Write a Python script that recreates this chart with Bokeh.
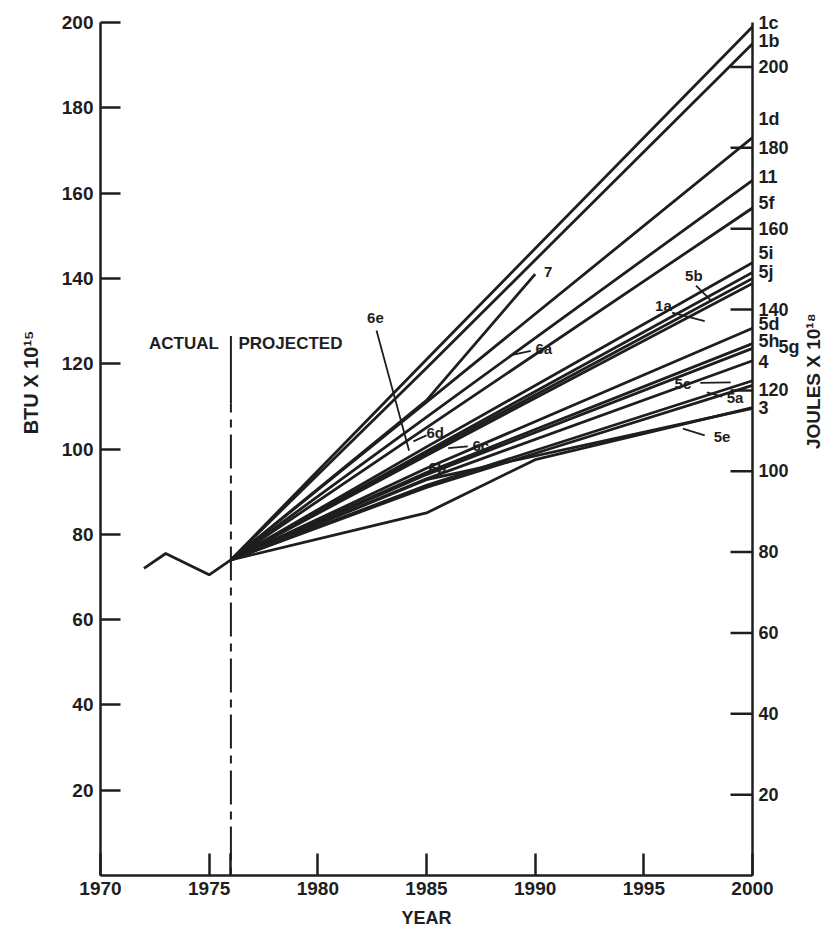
from bokeh.plotting import figure
from bokeh.models import Range1d, LinearAxis, FixedTicker, Label, Title
from bokeh.embed import file_html
from bokeh.resources import INLINE

# ---------------- data ----------------
hist_years = [1972, 1973, 1975, 1976]
hist_btu = [72, 75.5, 70.5, 74]

# projections: (years, BTU x 10^15)
y3 = [1976, 1985, 2000]
p1c = [74, 121, 199]
p1b = [74, 119, 195]
p1d = [74, 111, 173]
p11 = [74, 107.5, 163]
p5f = [74, 105, 156.5]
p5i = [74, 100.5, 143.7]
p5j = [74, 99.5, 141.4]
p5b = [74, 99, 140]
p1a = [74, 98.5, 138.8]
p5d = [74, 95.5, 128.3]
p5h = [74, 94.5, 124.7]
p5g = [74, 94, 123.6]
p4 = [74, 93, 120.7]
p5c = [74, 91.5, 116]
p5a = [74, 91, 114.9]
p5e = [74, 92.8, 109.5]
y7 = [1976, 1985, 1990]
p7 = [74, 111.4, 141]
y3low = [1976, 1985, 1990, 2000]
p3 = [74, 85, 97.5, 109.7]

proj_series = [
    (y3, p1c), (y3, p1b), (y3, p1d), (y3, p11), (y3, p5f), (y3, p5i), (y3, p5j),
    (y3, p5b), (y3, p1a), (y3, p5d), (y3, p5h), (y3, p5g), (y3, p4), (y3, p5c),
    (y3, p5a), (y3, p5e), (y7, p7), (y3low, p3),
]

left_ticks = [20, 40, 60, 80, 100, 120, 140, 160, 180, 200]
joule_ticks = [20, 40, 60, 80, 100, 120, 140, 160, 180, 200]
year_ticks = [1970, 1975, 1976, 1980, 1985, 1990, 1995, 2000]
BTU_TO_J = 1.055

# series labels just right of the right axis: (text, BTU position)
NB = "\u00a0"
right_labels = [("1c", 199.9), ("1b", 195.6), ("1d", 177.3), ("11", 163.7),
                ("5f", 157.6), ("5i", 146.0), ("5j", 141.6), ("5d", 129.4),
                ("5h", 125.3), (NB * 4 + "5g", 123.8), ("4", 120.3), ("3", 109.5)]
# inner labels: (text, year, BTU)
inner_labels = [("7", 1990.6, 141.4), ("5b", 1997.3, 140.7), ("1a", 1995.9, 133.6),
                ("6e", 1982.65, 130.6), ("6a", 1990.4, 123.6), ("6d", 1985.4, 103.9),
                ("6c", 1987.5, 100.8), ("6b", 1985.5, 95.7), ("5c", 1996.8, 115.4),
                ("5a", 1999.2, 112.1), ("5e", 1998.6, 102.9)]
# leader lines: (x0, y0, x1, y1)
leaders = [(1982.7, 127.8, 1984.2, 99.6), (1997.4, 138.3, 1998.1, 134.8),
           (1996.3, 132.0, 1997.8, 130.0), (1997.6, 115.5, 1999.0, 115.6),
           (1998.6, 112.3, 1997.9, 113.3), (1997.8, 103.2, 1996.8, 104.8),
           (1989.8, 123.0, 1988.9, 122.0), (1986.9, 100.6, 1986.0, 100.2),
           (1985.0, 103.2, 1984.4, 101.8)]

FONT = "Liberation Sans"
INK = "#1e1e1e"

p = figure(width=840, height=930, x_range=Range1d(1970, 2000), y_range=Range1d(0, 200),
           output_backend="svg", toolbar_location=None,
           min_border_left=100, min_border_right=88, min_border_top=22, min_border_bottom=55)
p.outline_line_color = None
p.grid.visible = False
p.background_fill_color = "white"

J_MAX = 200 * BTU_TO_J
p.extra_y_ranges = {"joules": Range1d(0, J_MAX)}

# left axis
p.yaxis.ticker = FixedTicker(ticks=left_ticks)
p.yaxis.major_tick_in = 20
p.yaxis.major_tick_out = 0
p.yaxis.minor_tick_line_color = None
p.yaxis.axis_line_width = 2.5
p.yaxis.major_tick_line_width = 2.5
p.yaxis.axis_line_color = INK
p.yaxis.major_tick_line_color = INK
p.yaxis.major_label_text_font = FONT
p.yaxis.major_label_text_font_size = "19px"
p.yaxis.major_label_text_font_style = "bold"
p.yaxis.major_label_text_color = INK
p.yaxis.major_label_standoff = 7

# bottom axis
p.xaxis.ticker = FixedTicker(ticks=year_ticks)
p.xaxis.major_label_overrides = {1976: ""}
p.xaxis.major_tick_in = 22
p.xaxis.major_tick_out = 0
p.xaxis.minor_tick_line_color = None
p.xaxis.axis_line_width = 2.5
p.xaxis.major_tick_line_width = 2.5
p.xaxis.axis_line_color = INK
p.xaxis.major_tick_line_color = INK
p.xaxis.major_label_text_font = FONT
p.xaxis.major_label_text_font_size = "19px"
p.xaxis.major_label_text_font_style = "bold"
p.xaxis.major_label_text_color = INK
p.xaxis.major_label_standoff = 6
p.xaxis.axis_label = "YEAR"
p.xaxis.axis_label_text_font = FONT
p.xaxis.axis_label_text_font_size = "18px"
p.xaxis.axis_label_text_font_style = "bold"
p.xaxis.axis_label_text_color = INK
p.xaxis.axis_label_standoff = 10

# right axis (joules): numeric labels plus series labels, ticks drawn separately
label_pos = [v * BTU_TO_J for _, v in right_labels]
overrides = {float(t): str(t) for t in joule_ticks}
for (txt, _), pos in zip(right_labels, label_pos):
    overrides[pos] = txt
ra = LinearAxis(y_range_name="joules",
                ticker=FixedTicker(ticks=[float(t) for t in joule_ticks] + label_pos),
                major_label_overrides=overrides)
ra.major_tick_in = 0
ra.major_tick_out = 0
ra.minor_tick_line_color = None
ra.axis_line_width = 2.5
ra.axis_line_color = INK
ra.major_label_text_font = FONT
ra.major_label_text_font_size = "18px"
ra.major_label_text_font_style = "bold"
ra.major_label_text_color = INK
ra.major_label_standoff = 6
ra.axis_label = "JOULES X 10\u00b9\u2078"
ra.axis_label_text_font = FONT
ra.axis_label_text_font_size = "19px"
ra.axis_label_text_font_style = "bold"
ra.axis_label_text_color = INK
ra.axis_label_standoff = 11
try:
    ra.axis_label_orientation = 1.5708
except Exception:
    pass
p.add_layout(ra, "right")

# inward joule tick marks on the right axis
p.segment(x0=[2000] * len(joule_ticks), y0=joule_ticks,
          x1=[2000 - 22 / 21.73] * len(joule_ticks), y1=joule_ticks,
          y_range_name="joules", line_color=INK, line_width=2.5)

# left axis title
p.add_layout(Title(text="BTU X 10\u00b9\u2075", align="right", offset=308,
                   text_font=FONT, text_font_size="20px", text_font_style="bold",
                   text_color=INK, standoff=34), "left")

# actual / projected divider
p.line([1976, 1976], [110.7, 126.5], line_color=INK, line_width=2)
p.line([1976, 1976], [0, 110.7], line_color=INK, line_width=2, line_dash="8 7 34 7")

# data lines
p.line(hist_years, hist_btu, line_color=INK, line_width=2.8)
for yrs, vals in proj_series:
    p.line(yrs, vals, line_color=INK, line_width=2.8)

for x0, y0, x1, y1 in leaders:
    p.line([x0, x1], [y0, y1], line_color=INK, line_width=1.8)

lab_kw = dict(text_font=FONT, text_font_style="bold", text_color=INK)
p.add_layout(Label(x=1975.45, y=124.7, text="ACTUAL", text_align="right",
                   text_baseline="middle", text_font_size="17px", **lab_kw))
p.add_layout(Label(x=1976.35, y=124.7, text="PROJECTED", text_align="left",
                   text_baseline="middle", text_font_size="17px", **lab_kw))
for t, xv, yv in inner_labels:
    p.add_layout(Label(x=xv, y=yv, text=t, text_align="center",
                       text_baseline="middle", text_font_size="15px", **lab_kw))

open("out.html", "w").write(file_html(p, INLINE))
